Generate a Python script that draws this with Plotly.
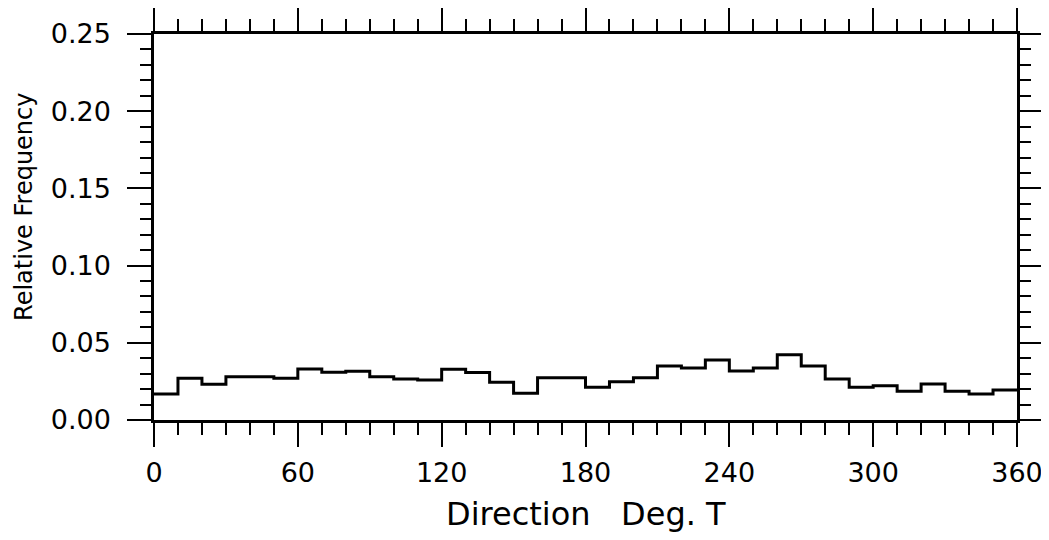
import plotly.graph_objects as go

bin_edges = list(range(0, 370, 10))
rel_freq = [0.0168, 0.0270, 0.0231, 0.0280, 0.0280, 0.0270, 0.0330, 0.0309, 0.0315,
            0.0280, 0.0265, 0.0259, 0.0328, 0.0307, 0.0244, 0.0173, 0.0274, 0.0274,
            0.0212, 0.0248, 0.0274, 0.0350, 0.0337, 0.0389, 0.0317, 0.0337, 0.0423,
            0.0350, 0.0265, 0.0212, 0.0222, 0.0186, 0.0233, 0.0186, 0.0168, 0.0194]
x_ticks = [0, 60, 120, 180, 240, 300, 360]
y_ticks = [0.00, 0.05, 0.10, 0.15, 0.20, 0.25]
y_ticklabels = ["0.00", "0.05", "0.10", "0.15", "0.20", "0.25"]

fig = go.Figure()
fig.add_trace(go.Scatter(
    x=bin_edges, y=rel_freq + [rel_freq[-1]],
    mode="lines", line=dict(shape="hv", color="black", width=3),
    showlegend=False, hoverinfo="skip", cliponaxis=False))

font_family = "DejaVu Sans"
axis_common = dict(
    showline=True, linecolor="black", linewidth=2.5, mirror="allticks",
    ticks="outside", ticklen=24, tickwidth=2.2, tickcolor="black",
    showgrid=False, zeroline=False, automargin=False,
    tickfont=dict(family=font_family, size=27, color="black"),
)
fig.update_xaxes(
    range=[0, 360], tickmode="array", tickvals=x_ticks,
    ticktext=[str(v) for v in x_ticks],
    minor=dict(dtick=10, ticklen=12, tickwidth=2.2, tickcolor="black", ticks="outside"),
    ticklabelstandoff=3,
    **axis_common)
fig.update_yaxes(
    range=[0, 0.25], tickmode="array", tickvals=y_ticks, ticktext=y_ticklabels,
    minor=dict(dtick=0.01, ticklen=11, tickwidth=2.2, tickcolor="black", ticks="outside"),
    ticklabelstandoff=11,
    **axis_common)

fig.add_annotation(text="Direction   Deg. T", xref="paper", yref="paper", x=0.5, y=0,
                   yshift=-94, xanchor="center", yanchor="middle", showarrow=False,
                   font=dict(family=font_family, size=32, color="black"))
fig.add_annotation(text="Relative Frequency", xref="paper", yref="paper", x=0, y=0.552,
                   xshift=-130, xanchor="center", yanchor="middle", showarrow=False,
                   textangle=-90, font=dict(family=font_family, size=24, color="black"))

fig.update_layout(
    width=1041, height=532,
    margin=dict(l=146, r=32, t=26, b=120, autoexpand=False),
    plot_bgcolor="white", paper_bgcolor="white",
)
fig.write_html("out.html")
